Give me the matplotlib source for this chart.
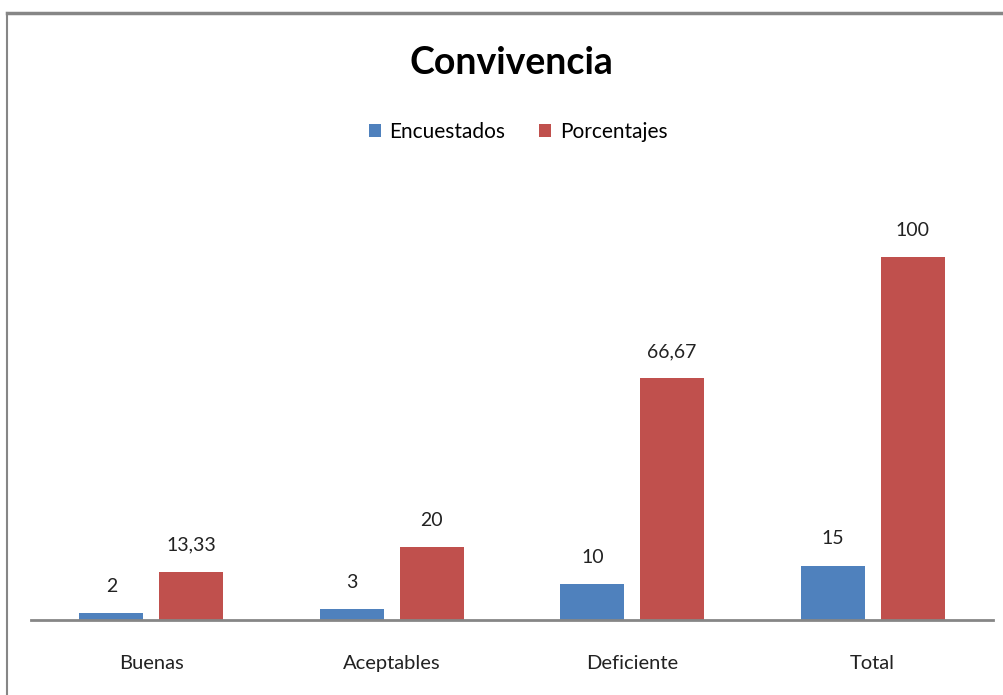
import matplotlib
matplotlib.use('Agg')
import matplotlib.pyplot as plt
import matplotlib.lines as mlines
import numpy as np

categorias = ['Buenas', 'Aceptables', 'Deficiente', 'Total']
encuestados = [2, 3, 10, 15]
porcentajes = [13.33, 20, 66.67, 100]
series = ['Encuestados', 'Porcentajes']

BLUE = '#4F81BD'
RED = '#C0504D'
GRAY = '#868686'

plt.rcParams['font.family'] = ['Lato', 'DejaVu Sans']

def fmt(v):
    s = f'{v:.2f}'.rstrip('0').rstrip('.')
    return s.replace('.', ',')

fig = plt.figure(figsize=(10.04, 6.95), dpi=100)
fig.patch.set_facecolor('white')
ax = fig.add_axes([31/1004, 1-620/695, (993-31)/1004, (620-184.4)/695])

x = np.arange(len(categorias))
w = 0.266
off = 0.166
b1 = ax.bar(x - off, encuestados, w, color=BLUE, label=series[0])
b2 = ax.bar(x + off, porcentajes, w, color=RED, label=series[1])

for bars, vals in ((b1, encuestados), (b2, porcentajes)):
    for b, v in zip(bars, vals):
        ax.annotate(fmt(v), (b.get_x() + b.get_width()/2, v),
                    xytext=(0, 13), textcoords='offset points',
                    ha='center', va='bottom', fontsize=14, color='#222222')

ax.set_xlim(-0.5, 3.5)
ax.set_ylim(0, 120)
ax.set_yticks([])
ax.set_xticks(x)
ax.set_xticklabels(categorias, fontsize=14.5, color='#222222')
ax.tick_params(axis='x', length=0, pad=25)
for s in ['top', 'right', 'left']:
    ax.spines[s].set_visible(False)
ax.spines['bottom'].set_color(GRAY)
ax.spines['bottom'].set_linewidth(2)

fig.text(0.509, 1-63/695, 'Convivencia', ha='center', va='center',
         fontsize=27, fontweight='bold', color='black')
fig.legend(handles=[b1, b2], labels=series, loc='center',
           bbox_to_anchor=(0.516, 1-132/695), ncol=2, frameon=False,
           fontsize=15, handlelength=0.6, handleheight=0.6,
           handletextpad=0.4, columnspacing=1.6)

# outer border (top and left visible)
fig.add_artist(mlines.Line2D([7/1004, 1], [1-13/695, 1-13/695],
                             color=GRAY, lw=2.5, transform=fig.transFigure))
fig.add_artist(mlines.Line2D([7/1004, 7/1004], [0, 1-13/695],
                             color=GRAY, lw=1.5, transform=fig.transFigure))

plt.savefig('out.png', dpi=100, facecolor=fig.get_facecolor())
plt.close()
